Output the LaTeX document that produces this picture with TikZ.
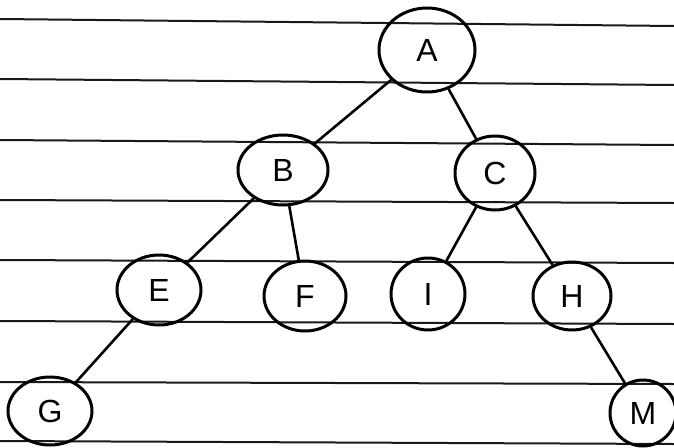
\documentclass[tikz,border=0pt]{standalone}
\usepackage{fontspec}
\setmainfont{Liberation Sans}
\usetikzlibrary{shapes.geometric}

\begin{document}
\begin{tikzpicture}[x=1pt, y=-1pt,
  rule/.style={draw=black!90, line width=2pt},
  vertex/.style={draw, ellipse, line width=3pt, minimum width=84pt, minimum height=70pt, inner sep=0pt, font=\fontsize{32}{36}\selectfont},
  edge/.style={line width=2.6pt}]
\useasboundingbox (0,0) rectangle (674,447);
% ruled paper
\draw[rule] (0,19) -- (674,26);
\draw[rule] (0,79) -- (674,85);
\draw[rule] (0,140) -- (674,145);
\draw[rule] (0,200) -- (674,203);
\draw[rule] (0,260) -- (674,263);
\draw[rule] (0,321) -- (674,324);
\draw[rule] (0,382) -- (674,384);
\draw[rule] (0,441) -- (674,444);
% tree
\node[vertex, minimum width=96pt, minimum height=84pt] (a) at (427,50) {A};
\node[vertex, minimum width=90pt] (b) at (283,170) {B};
\node[vertex, minimum width=80pt, minimum height=74pt] (c) at (495,173) {C};
\node[vertex] (e) at (159,290) {E};
\node[vertex, minimum width=82pt] (f) at (305,296) {F};
\node[vertex, minimum width=74pt, minimum height=72pt] (i) at (428,294) {I};
\node[vertex, minimum width=78pt, minimum height=68pt] (h) at (572,296) {H};
\node[vertex, minimum height=68pt] (g) at (50,411) {G};
\node[vertex, minimum width=66pt, minimum height=66pt] (m) at (643,413) {M};
\draw[edge] (a) -- (b);
\draw[edge] (a) -- (c);
\draw[edge] (b) -- (e);
\draw[edge] (b) -- (f);
\draw[edge] (c) -- (i);
\draw[edge] (c) -- (h);
\draw[edge] (e) -- (g);
\draw[edge] (h) -- (m);
\end{tikzpicture}
\end{document}
